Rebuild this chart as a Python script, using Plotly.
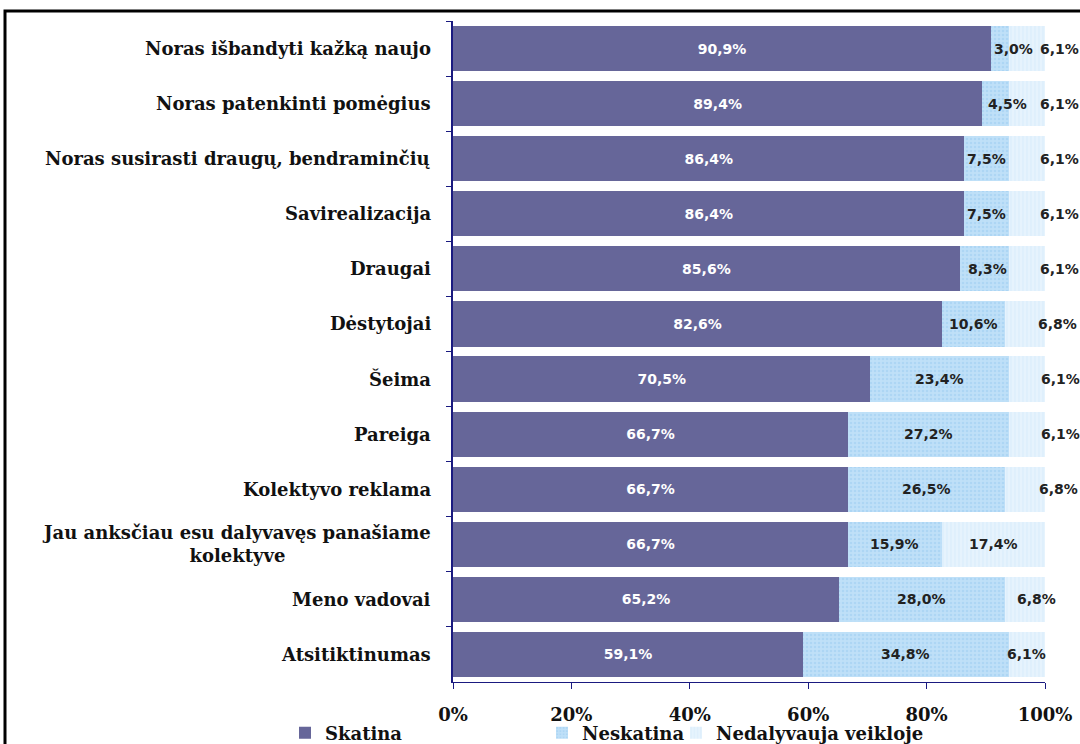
import plotly.graph_objects as go

categories = [
    "Noras išbandyti kažką naujo",
    "Noras patenkinti pomėgius",
    "Noras susirasti draugų, bendraminčių",
    "Savirealizacija",
    "Draugai",
    "Dėstytojai",
    "Šeima",
    "Pareiga",
    "Kolektyvo reklama",
    "Jau anksčiau esu dalyvavęs panašiame<br>kolektyve",
    "Meno vadovai",
    "Atsitiktinumas",
]
skatina = [90.9, 89.4, 86.4, 86.4, 85.6, 82.6, 70.5, 66.7, 66.7, 66.7, 65.2, 59.1]
neskatina = [3.0, 4.5, 7.5, 7.5, 8.3, 10.6, 23.4, 27.2, 26.5, 15.9, 28.0, 34.8]
nedalyvauja = [6.1, 6.1, 6.1, 6.1, 6.1, 6.8, 6.1, 6.1, 6.8, 17.4, 6.8, 6.1]
series_names = ["Skatina", "Neskatina", "Nedalyvauja veikloje"]
x_tick_vals = [0, 20, 40, 60, 80, 100]
x_tick_labels = ["0%", "20%", "40%", "60%", "80%", "100%"]

# label nudges (pixels) used by the original chart for crowded segments
nes_shift = [13, 12, 0, 0, 3, 0, 0, 0, 0, 0, 0, 0]
ned_shift = [33, 33, 33, 33, 33, 33, 34, 34, 34, 0, 12, 0]

def fmt(v):
    return f"{v:.1f}".replace(".", ",") + "%"

SERIF = "DejaVu Serif"
SANS = "DejaVu Sans"
PURPLE = "#666699"
NES_BG = "#bfe0f8"
NES_FG = "#9ccbef"
NED_BG = "#e6f3fd"
NED_FG = "#cfe6f9"
NAVY = "#1a1a80"
LABEL_SIZE = 14

fig = go.Figure()
fig.add_trace(go.Bar(
    y=categories, x=skatina, orientation="h", name=series_names[0],
    marker=dict(color=PURPLE, line=dict(width=0)),
    text=[fmt(v) for v in skatina], textposition="inside",
    insidetextanchor="middle", textangle=0, constraintext="none",
    textfont=dict(family=SANS, size=LABEL_SIZE, color="white", weight="bold"),
    legend="legend", showlegend=True, hoverinfo="skip",
))
fig.add_trace(go.Bar(
    y=categories, x=neskatina, orientation="h", name=series_names[1],
    marker=dict(color=NES_BG, line=dict(width=0),
                pattern=dict(shape=".", fgcolor=NES_FG, size=4, solidity=0.35)),
    legend="legend2", showlegend=True, hoverinfo="skip",
))
fig.add_trace(go.Bar(
    y=categories, x=nedalyvauja, orientation="h", name=series_names[2],
    marker=dict(color=NED_BG, line=dict(width=0),
                pattern=dict(shape="|", fgcolor=NED_FG, size=4, solidity=0.3)),
    legend="legend3", showlegend=True, hoverinfo="skip",
))

annotations = []
for i, cat in enumerate(categories):
    annotations.append(dict(
        x=0, xref="paper", y=cat, yref="y", xanchor="right", yanchor="middle",
        xshift=-20, text=cat, showarrow=False, align="center",
        font=dict(family=SERIF, size=18, color="#111111", weight="bold"),
    ))
    annotations.append(dict(
        x=skatina[i] + neskatina[i] / 2, y=cat, xref="x", yref="y",
        text=fmt(neskatina[i]), showarrow=False, xshift=nes_shift[i],
        font=dict(family=SANS, size=LABEL_SIZE, color="#222222", weight="bold"),
    ))
    annotations.append(dict(
        x=skatina[i] + neskatina[i] + nedalyvauja[i] / 2, y=cat, xref="x", yref="y",
        text=fmt(nedalyvauja[i]), showarrow=False, xshift=ned_shift[i],
        font=dict(family=SANS, size=LABEL_SIZE, color="#222222", weight="bold"),
    ))

legend_font = dict(family=SERIF, size=18, color="#111111", weight="bold")
leg_y = (682 - 733) / 661
fig.update_layout(
    width=1080, height=744,
    showlegend=True,
    barmode="stack", bargap=0.18,
    paper_bgcolor="white", plot_bgcolor="white",
    margin=dict(l=453, r=35, t=21, b=62, autoexpand=False),
    xaxis=dict(
        range=[0, 100], tickvals=x_tick_vals, ticktext=x_tick_labels,
        showgrid=False, zeroline=False,
        showline=True, linecolor=NAVY, linewidth=1,
        ticks="outside", ticklen=6, tickcolor=NAVY,
        ticklabelstandoff=10,
        tickfont=dict(family=SERIF, size=18, color="#111111", weight="bold"),
        fixedrange=True,
    ),
    yaxis=dict(
        autorange="reversed", showticklabels=False, showgrid=False,
        showline=True, linecolor=NAVY, linewidth=2,
        ticks="outside", ticklen=5, tickcolor=NAVY, tickson="boundaries",
        fixedrange=True,
    ),
    annotations=annotations,
    legend=dict(orientation="h", x=(285 - 453) / 592, xanchor="left", y=leg_y, yanchor="middle",
                font=legend_font, bgcolor="rgba(0,0,0,0)", itemwidth=30),
    legend2=dict(orientation="h", x=(542 - 453) / 592, xanchor="left", y=leg_y, yanchor="middle",
                 font=legend_font, bgcolor="rgba(0,0,0,0)", itemwidth=30),
    legend3=dict(orientation="h", x=(676 - 453) / 592, xanchor="left", y=leg_y, yanchor="middle",
                 font=legend_font, bgcolor="rgba(0,0,0,0)", itemwidth=30),
    shapes=[dict(
        type="rect", xref="paper", yref="paper",
        x0=(5 - 453) / 592, x1=(1090 - 453) / 592,
        y0=(682 - 760) / 661, y1=(682 - 11) / 661,
        line=dict(color="black", width=3), fillcolor="rgba(0,0,0,0)", layer="above",
    )],
)

fig.write_html(
    "out.html",
    config={"displayModeBar": False},
    post_script="document.body.style.margin='0';document.body.style.overflow='hidden';",
)
